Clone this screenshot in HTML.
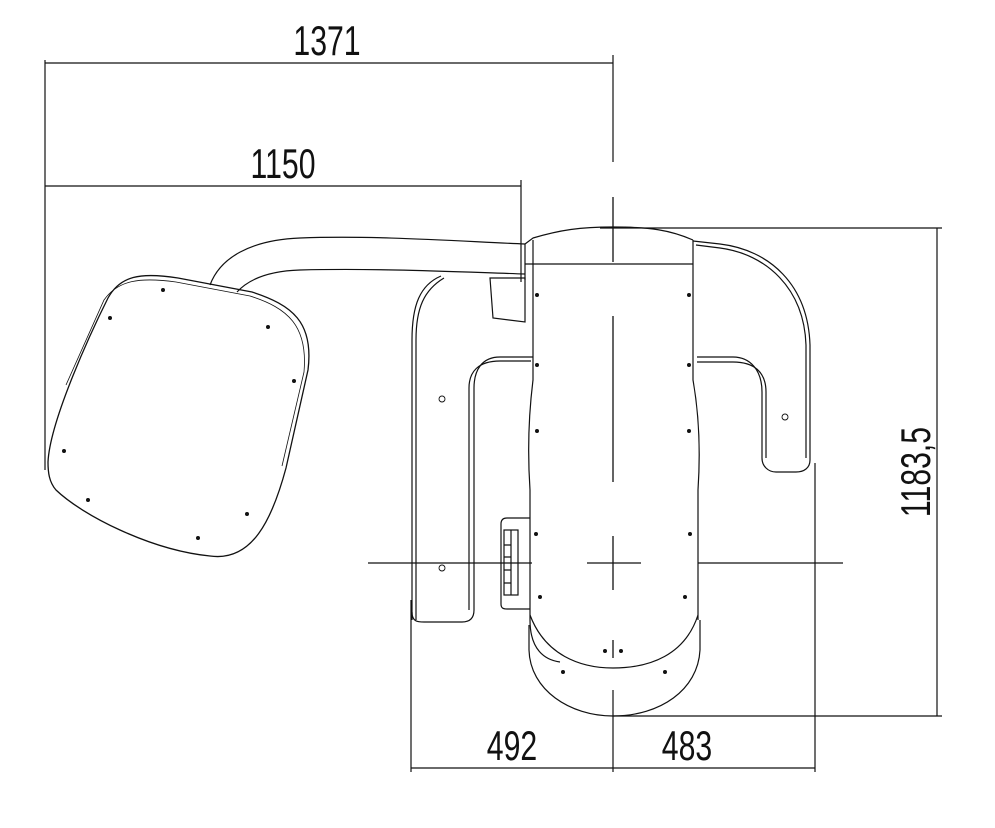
<!DOCTYPE html>
<html><head><meta charset="utf-8"><style>html,body{margin:0;padding:0;background:#fff}svg{display:block}</style></head>
<body>
<svg width="995" height="828" viewBox="0 0 995 828" xmlns="http://www.w3.org/2000/svg" fill="none" stroke="#111" stroke-width="1.2">
<g font-family="Liberation Sans, sans-serif" font-size="42" fill="#111" stroke="none" text-anchor="middle">
<text transform="translate(327,55) scale(0.72,1)">1371</text>
<text transform="translate(283,178) scale(0.72,1)">1150</text>
<text transform="translate(512,760) scale(0.72,1)">492</text>
<text transform="translate(687,760) scale(0.72,1)">483</text>
<text transform="translate(930,472) rotate(-90) scale(0.72,1)">1183,5</text>
</g>
<!-- dimension lines -->
<path d="M45 63 H613 M45 60 V470 M613 55 V162 M45 186 H521 M521 180 V282"/>
<path d="M937 228 V716 M600 228 H942 M613 716 H942"/>
<path d="M411 768 H815 M411 600 V772 M815 463 V772 M613 690 V772"/>
<!-- center lines -->
<path d="M368 563 H532 M587 563 H641 M698 563 H843 M613 536 V590 M613 197 V262 M613 316 V482 M613 640 V658" stroke-width="1.3"/>
<!-- pipe -->
<path d="M525 244 C470 242 380 235 300 238 C250 240 220 258 210 285"/>
<path d="M525 274 C460 272 380 268 300 270 C268 271 248 280 237 292"/>
<path d="M490 278 H525 V322 L493 318 Z"/>
<!-- left arm -->
<path d="M412 620 V340 C412 305 420 285 441 276"/>
<path d="M416 620 V340 C416 308 424 290 444 278"/>
<path d="M412 612 C412 622 418 622 424 622 H462 C470 622 474 618 474 610 V388 C474 370 482 357 500 357 H533"/>
<path d="M469 610 V388 C469 372 478 361 500 361 H531"/>
<!-- right arm -->
<path d="M693 241 L720 244 C770 250 808 285 810 345 V460 C810 468 804 472 796 472 H776 C768 472 762 466 762 458 V392 C762 370 750 357 733 357 H697"/>
<path d="M696 245 L720 248 C766 254 804 288 806 345 V458 M766 458 V392 C766 372 754 362 733 362 H697"/>
<!-- body -->
<path d="M525 244 L533 238 C560 230 580 227 613 227 C650 227 670 230 693 240"/>
<path d="M525 264 H693"/>
<path d="M525 244 V280 M533 240 V380 C528 420 528 460 530 490 V620 C530 650 545 660 560 662"/>
<path d="M693 240 V380 C700 420 700 460 698 490 V620"/>
<path d="M530 615 C545 655 580 668 613 668 C650 668 685 655 698 615"/>
<path d="M529 625 V650 C530 690 570 716 613 716 C660 716 698 690 700 650 V620"/>
<!-- side panel -->
<path d="M530 518 H507 C503 518 501 520 501 524 V604 C501 608 503 609 507 609 H530"/>
<rect x="504" y="530" width="14" height="65"/>
<path d="M511 530 V595 M504 545 H511 M504 557 H511 M504 570 H511 M504 583 H511"/>
<!-- seat -->
<path d="M48 462 C50 420 92 330 108 298 C120 276 140 272 178 278 L252 292 C292 305 314 322 308 370 L286 468 C272 520 252 562 210 556 C150 550 82 515 56 490 C49 482 48 472 48 462 Z" stroke-width="1.3"/>
<path d="M66 385 L104 300 C118 280 140 277 176 282 L250 296 C288 308 308 326 304 372 L282 466" stroke-width="0.8"/>
<!-- holes -->
<g fill="#111" stroke="none">
<circle cx="537" cy="295" r="2"/><circle cx="689" cy="295" r="2"/>
<circle cx="537" cy="365" r="2"/><circle cx="689" cy="365" r="2"/>
<circle cx="537" cy="431" r="2"/><circle cx="689" cy="431" r="2"/>
<circle cx="536" cy="534" r="2"/><circle cx="690" cy="534" r="2"/>
<circle cx="540" cy="597" r="2"/><circle cx="685" cy="597" r="2"/>
<circle cx="605" cy="651" r="2"/><circle cx="621" cy="651" r="2"/>
<circle cx="563" cy="672" r="2"/><circle cx="665" cy="672" r="2"/>
<circle cx="163" cy="290" r="2"/><circle cx="110" cy="318" r="2"/><circle cx="268" cy="327" r="2"/>
<circle cx="294" cy="381" r="2"/><circle cx="64" cy="451" r="2"/><circle cx="88" cy="500" r="2"/>
<circle cx="247" cy="514" r="2"/><circle cx="198" cy="538" r="2"/>
</g>
<circle cx="442" cy="399" r="3" stroke-width="0.9"/>
<circle cx="785" cy="417" r="3" stroke-width="0.9"/>
<circle cx="442" cy="568" r="3" stroke-width="0.9"/>
</svg>
</body></html>
